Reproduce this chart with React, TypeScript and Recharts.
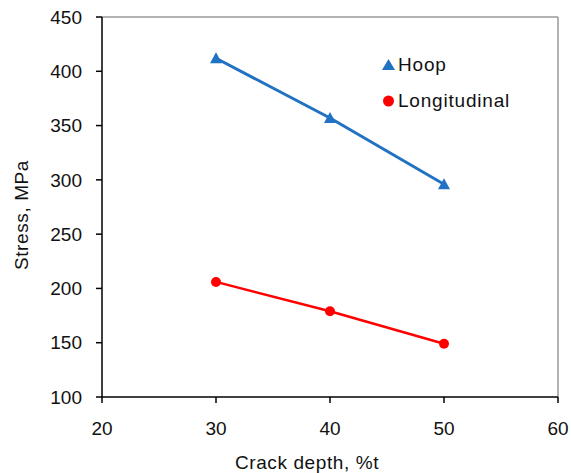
import {
  LineChart,
  Line,
  XAxis,
  YAxis,
  ReferenceLine,
  Label,
} from 'recharts';

const crackDepth = [30, 40, 50];
const hoop = [412, 357, 296];
const longitudinal = [206, 179, 149];
const xTicks = [20, 30, 40, 50, 60];
const yTicks = [100, 150, 200, 250, 300, 350, 400, 450];

const BLUE = '#2172c2';
const RED = '#ff0000';
const FONT = 'Arial, "Liberation Sans", sans-serif';

const data = crackDepth.map((d, i) => ({
  depth: d,
  hoop: hoop[i],
  longitudinal: longitudinal[i],
}));

const TriangleDot = (props: { cx?: number; cy?: number; index?: number }) => {
  const { cx = 0, cy = 0, index } = props;
  return (
    <polygon
      key={`t-${index}`}
      points={`${cx},${cy - 6} ${cx + 6},${cy + 5} ${cx - 6},${cy + 5}`}
      fill={BLUE}
    />
  );
};

const CircleDot = (props: { cx?: number; cy?: number; index?: number }) => {
  const { cx = 0, cy = 0, index } = props;
  return <circle key={`c-${index}`} cx={cx} cy={cy} r={5} fill={RED} />;
};

// legend drawn as an overlay so it doesn't shrink the plot area
const LegendBox = () => (
  <div
    style={{
      position: 'absolute',
      left: 381,
      top: 47,
      fontFamily: FONT,
      fontSize: 19,
      letterSpacing: 0.8,
      color: '#111',
    }}
  >
    <div style={{ display: 'flex', alignItems: 'center', height: 35 }}>
      <svg width={15} height={14}>
        <polygon points="7.5,1 14,12 1,12" fill={BLUE} />
      </svg>
      <span style={{ marginLeft: 2 }}>Hoop</span>
    </div>
    <div style={{ display: 'flex', alignItems: 'center', height: 37 }}>
      <svg width={15} height={14}>
        <circle cx={7.5} cy={7} r={5.5} fill={RED} />
      </svg>
      <span style={{ marginLeft: 2 }}>Longitudinal</span>
    </div>
  </div>
);

export default function App() {
  const tickStyle = { fontSize: 19, fill: '#111', fontFamily: FONT };
  const labelStyle = { fontSize: 19, fill: '#111', fontFamily: FONT, letterSpacing: 0.6 };
  return (
    <div style={{ position: 'absolute', left: 0, top: 0, background: '#fff' }}>
      <LineChart
        width={571}
        height={473}
        data={data}
        margin={{ top: 17, right: 13, left: 0, bottom: 0 }}
      >
        <XAxis
          dataKey="depth"
          type="number"
          domain={[20, 60]}
          ticks={xTicks}
          tick={tickStyle}
          tickSize={6}
          tickMargin={19}
          stroke="#000"
          strokeWidth={1.5}
          height={76}
        >
          <Label
            content={() => (
              <text
                x={307}
                y={462}
                textAnchor="middle"
                dominantBaseline="central"
                style={labelStyle}
              >
                Crack depth, %t
              </text>
            )}
          />
        </XAxis>
        <YAxis
          type="number"
          domain={[100, 450]}
          ticks={yTicks}
          tick={tickStyle}
          tickSize={6}
          tickMargin={14}
          stroke="#000"
          strokeWidth={1.5}
          width={102}
          interval={0}
        >
          <Label
            content={() => (
              <text
                x={21}
                y={215}
                transform="rotate(-90, 21, 215)"
                textAnchor="middle"
                dominantBaseline="central"
                style={labelStyle}
              >
                Stress, MPa
              </text>
            )}
          />
        </YAxis>
        <ReferenceLine y={450} stroke="#999" strokeWidth={1.5} />
        <ReferenceLine x={60} stroke="#999" strokeWidth={1.5} />
        <Line
          dataKey="hoop"
          name="Hoop"
          stroke={BLUE}
          strokeWidth={3}
          dot={<TriangleDot />}
          isAnimationActive={false}
        />
        <Line
          dataKey="longitudinal"
          name="Longitudinal"
          stroke={RED}
          strokeWidth={2.5}
          dot={<CircleDot />}
          isAnimationActive={false}
        />
      </LineChart>
      <LegendBox />
    </div>
  );
}
